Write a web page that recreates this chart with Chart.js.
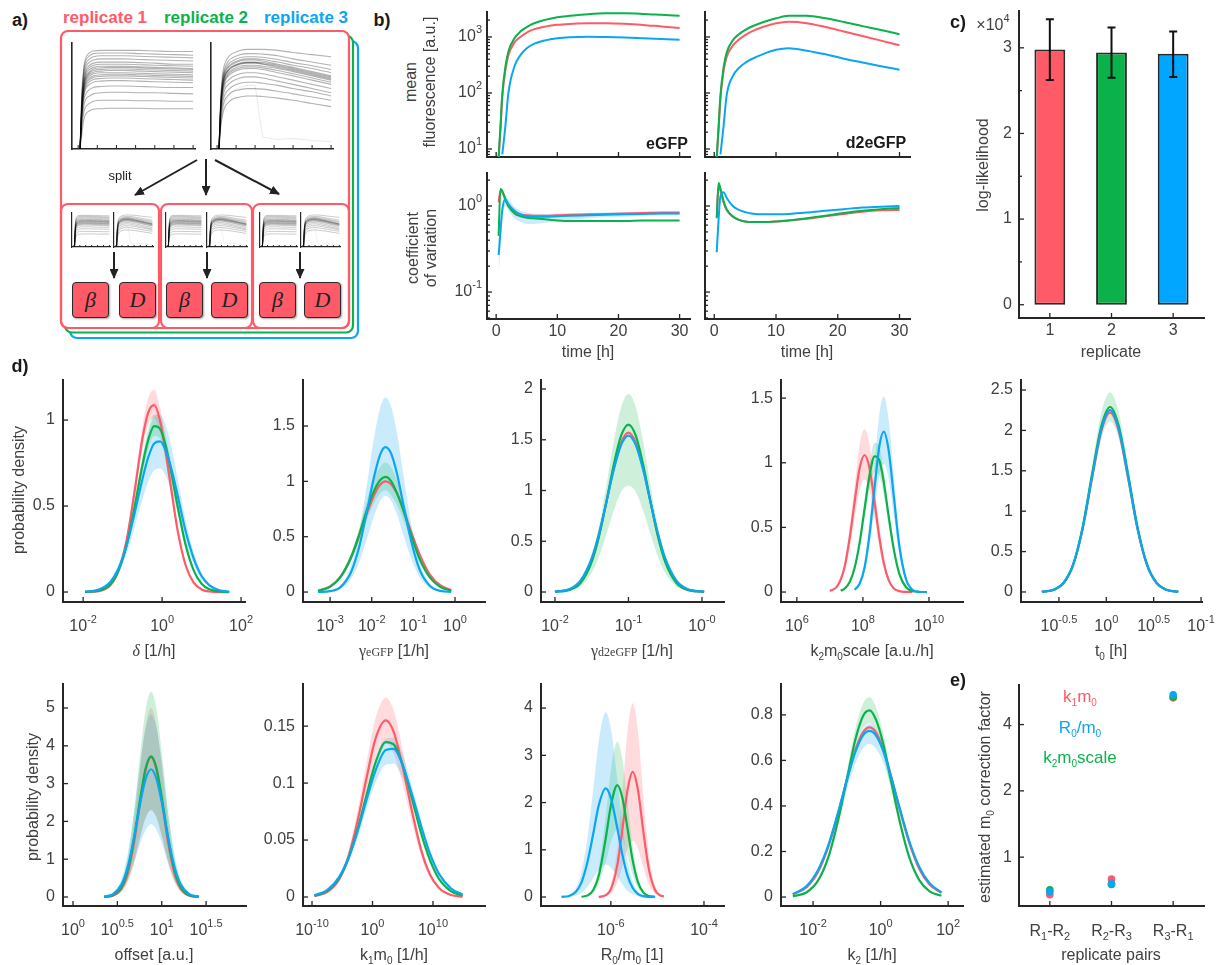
<!DOCTYPE html>
<html><head><meta charset="utf-8">
<script src="https://cdn.jsdelivr.net/npm/chart.js@4.4.0/dist/chart.umd.min.js"></script>
<style>
html,body{margin:0;padding:0;background:#fff;}
body{width:1222px;height:965px;position:relative;overflow:hidden;font-family:'Liberation Sans',Arial,Helvetica,sans-serif;color:#404040;}
canvas{position:absolute;}
.t{position:absolute;white-space:nowrap;font-size:16px;line-height:1;transform:translate(-50%,-50%);}
.r{transform:translate(-50%,-50%) rotate(-90deg);}
.b{font-weight:bold;color:#1a1a1a;font-size:17px;}
.t sub{font-size:10px;vertical-align:-4px;line-height:0;}
.t sup{font-size:11px;vertical-align:8px;line-height:0;}
.serif{font-family:'Liberation Serif','DejaVu Serif',serif;}
.box{position:absolute;background:#ff5a68;border:1.5px solid #2a2a2a;border-radius:4px;box-shadow:1px 1px 2px rgba(0,0,0,.35);display:flex;align-items:center;justify-content:center;font-family:'Liberation Serif','DejaVu Serif',serif;font-style:italic;font-size:22px;color:#222;box-sizing:border-box;width:37px;height:36px;top:282px;}
</style></head><body>
<svg width="1222" height="965" style="position:absolute;left:0;top:0">
<defs><marker id="ah" markerWidth="10" markerHeight="9" refX="9" refY="4.5" orient="auto" markerUnits="userSpaceOnUse"><path d="M0,0 L10,4.5 L0,9 z" fill="#222"/></marker></defs>
<rect x="70" y="41" width="288" height="297" rx="7" fill="#fff" stroke="#0AA6F2" stroke-width="2.2"/>
<rect x="65" y="35.5" width="288" height="297" rx="7" fill="#fff" stroke="#0BB24B" stroke-width="2.2"/>
<rect x="61" y="31" width="288" height="297" rx="7" fill="#fff" stroke="#FF5A68" stroke-width="2.2"/>
<rect x="61" y="204" width="98" height="124" rx="7" fill="none" stroke="#FF5A68" stroke-width="2.2"/>
<rect x="161" y="204" width="91" height="124" rx="7" fill="none" stroke="#FF5A68" stroke-width="2.2"/>
<rect x="253" y="204" width="96" height="124" rx="7" fill="none" stroke="#FF5A68" stroke-width="2.2"/>
<g stroke="#222" stroke-width="2" marker-end="url(#ah)">
<line x1="197" y1="160" x2="135" y2="195"/>
<line x1="206" y1="159" x2="206" y2="195"/>
<line x1="215" y1="160" x2="279" y2="194"/>
<line x1="114" y1="252" x2="114" y2="278"/>
<line x1="207" y1="252" x2="207" y2="278"/>
<line x1="300" y1="252" x2="300" y2="278"/>
</g>
</svg>
<div class="box" style="left:72px">β</div><div class="box" style="left:119px">D</div>
<div class="box" style="left:166px">β</div><div class="box" style="left:211px">D</div>
<div class="box" style="left:259px">β</div><div class="box" style="left:304px">D</div>
<script>
// ---------------- DATA ----------------
// panel a (schematic single-cell traces, normalised)
const traceTime = [0.5,1,1.5,2,3,4,6,8,10,12,16,20,25,30];
const eGFPTraces = [
 [0,.55,.78,.86,.91,.925,.93,.93,.93,.93,.93,.925,.92,.92],
 [0,.52,.75,.83,.88,.9,.905,.905,.905,.905,.9,.895,.89,.885],
 [0,.5,.72,.8,.85,.87,.88,.88,.88,.88,.875,.87,.865,.86],
 [0,.47,.69,.77,.82,.84,.85,.85,.85,.85,.845,.84,.835,.83],
 [0,.45,.66,.74,.79,.81,.82,.82,.82,.82,.815,.81,.8,.8],
 [0,.44,.64,.72,.77,.79,.80,.80,.80,.80,.795,.79,.785,.78],
 [0,.42,.62,.7,.75,.77,.78,.78,.78,.78,.775,.77,.765,.76],
 [0,.41,.61,.68,.73,.755,.765,.77,.77,.77,.765,.76,.755,.75],
 [0,.4,.6,.67,.72,.74,.75,.755,.755,.755,.75,.745,.74,.735],
 [0,.39,.585,.655,.705,.725,.735,.74,.74,.74,.735,.73,.725,.72],
 [0,.38,.57,.64,.69,.71,.72,.72,.72,.72,.715,.71,.705,.7],
 [0,.37,.555,.625,.67,.69,.70,.705,.705,.705,.70,.695,.69,.685],
 [0,.36,.54,.61,.655,.675,.685,.69,.69,.69,.685,.68,.675,.67],
 [0,.345,.52,.59,.635,.655,.665,.67,.67,.67,.665,.66,.655,.65],
 [0,.33,.5,.57,.61,.63,.64,.645,.645,.645,.64,.635,.63,.625],
 [0,.3,.46,.52,.56,.58,.59,.595,.595,.595,.59,.585,.58,.58],
 [0,.26,.41,.47,.5,.52,.53,.535,.535,.535,.53,.53,.525,.52],
 [0,.22,.35,.4,.43,.45,.46,.46,.46,.46,.455,.455,.45,.45],
 [0,.15,.28,.33,.36,.375,.38,.385,.385,.385,.385,.38,.38,.38]
];
const d2eGFPTraces = [
 [0,.5,.72,.8,.87,.9,.93,.94,.94,.94,.93,.91,.89,.87],
 [0,.48,.68,.76,.83,.86,.89,.9,.9,.895,.88,.85,.82,.79],
 [0,.46,.66,.74,.8,.83,.86,.87,.87,.865,.845,.815,.785,.75],
 [0,.45,.64,.72,.78,.81,.84,.85,.85,.845,.82,.79,.76,.72],
 [0,.44,.63,.71,.77,.8,.83,.84,.84,.83,.8,.77,.73,.69],
 [0,.43,.61,.69,.75,.78,.81,.82,.82,.815,.79,.76,.72,.68],
 [0,.42,.605,.685,.745,.775,.805,.815,.815,.805,.78,.75,.71,.67],
 [0,.41,.6,.68,.74,.77,.8,.81,.81,.8,.77,.74,.7,.66],
 [0,.4,.58,.66,.72,.75,.78,.79,.79,.78,.76,.73,.69,.65],
 [0,.39,.565,.645,.705,.735,.765,.775,.775,.765,.74,.71,.67,.63],
 [0,.38,.55,.63,.69,.72,.75,.76,.76,.75,.72,.69,.65,.61],
 [0,.36,.52,.6,.65,.68,.71,.72,.72,.71,.68,.65,.61,.57],
 [0,.33,.48,.56,.61,.64,.67,.68,.68,.67,.64,.61,.57,.53],
 [0,.3,.44,.51,.56,.59,.62,.63,.63,.62,.6,.57,.54,.5],
 [0,.26,.39,.46,.51,.54,.56,.57,.57,.565,.545,.52,.49,.46],
 [0,.22,.33,.39,.44,.47,.49,.5,.5,.495,.48,.46,.43,.4]
];
const d2eGFPOutlier = [0,.2,.35,.42,.5,.54,.58,.6,.6,.11,.09,.1,.08,.07];

// panel b
const bTime = [0.4,0.7,1,1.5,2,3,4,5,6,8,10,12,15,18,21,24,27,30];
const meanEgfpRed   = [7,22,85,250,470,800,1010,1200,1350,1530,1650,1710,1750,1760,1720,1640,1540,1450];
const meanEgfpGreen = [7,25,95,290,550,950,1260,1500,1720,2020,2250,2380,2550,2640,2640,2580,2480,2380];
const meanEgfpBlue  = [null,null,8,25,100,300,480,630,740,870,950,990,1010,1000,980,950,920,890];
const meanD2Red     = [7,22,80,240,440,700,900,1080,1250,1520,1750,1870,1760,1500,1250,1040,860,710];
const meanD2Green   = [7,25,90,280,520,870,1120,1330,1520,1850,2150,2380,2380,2150,1850,1560,1330,1120];
const meanD2Blue    = [null,null,8,25,90,200,280,345,400,500,590,630,570,490,410,350,300,260];
const cvEgfpRed   = [1.1,1.5,1.45,1.2,1.0,0.85,0.8,0.78,0.77,0.77,0.78,0.79,0.8,0.81,0.82,0.83,0.84,0.84];
const cvEgfpGreen = [0.45,1.58,1.5,1.2,1.0,0.82,0.76,0.73,0.72,0.70,0.68,0.67,0.67,0.67,0.67,0.68,0.68,0.68];
const cvEgfpBlue  = [0.27,0.5,0.9,1.2,1.05,0.88,0.8,0.76,0.75,0.75,0.76,0.77,0.78,0.79,0.8,0.81,0.82,0.82];
const cvEgfpBlueHi = [0.4,0.7,1.1,1.35,1.2,0.98,0.88,0.84,0.82,0.81,0.82,0.82,0.83,0.84,0.85,0.86,0.86,0.86];
const cvEgfpBlueLo = [0.16,0.33,0.7,1.0,0.88,0.72,0.65,0.62,0.62,0.64,0.67,0.69,0.72,0.74,0.75,0.77,0.78,0.79];
const cvD2Red   = [0.75,1.7,1.5,1.1,0.9,0.75,0.69,0.66,0.65,0.65,0.66,0.68,0.71,0.76,0.81,0.86,0.89,0.9];
const cvD2Green = [0.72,1.85,1.6,1.15,0.92,0.76,0.69,0.66,0.65,0.65,0.66,0.68,0.72,0.77,0.83,0.88,0.92,0.95];
const cvD2Blue  = [0.29,0.7,1.3,1.45,1.25,1.0,0.9,0.85,0.82,0.8,0.8,0.81,0.84,0.88,0.92,0.96,0.98,1.0];
const bTimeTicks = [0,10,20,30];
const bTimeLabels = ['0','10','20','30'];

// panel c
const llReplicates = ['1','2','3'];
const llMean = [29810,29460,29300];
const llHi = [33350,32380,31910];
const llLo = [26230,26500,26580];

// panel d (x values are log10 of the parameter)
const d1X = [-1.95,-1.6,-1.3,-1.1,-0.9,-0.7,-0.5,-0.35,-0.2,-0.05,0.1,0.25,0.4,0.6,0.8,1.0,1.2,1.45,1.7];
const d1Red   = [0,.005,.042,.128,.30,.58,.89,1.045,1.087,.994,.80,.57,.35,.153,.055,.015,.003,0,0];
const d1Green = [.001,.008,.048,.126,.27,.49,.735,.886,.965,.948,.843,.675,.49,.27,.126,.048,.016,.003,0];
const d1Blue  = [.002,.014,.062,.138,.27,.454,.655,.784,.864,.876,.817,.704,.555,.35,.196,.093,.039,.01,.002];
const d1RedHi = [0,.005,.045,.138,.324,.626,.96,1.13,1.175,1.07,.864,.616,.378,.165,.059,.016,.003,0,0];
const d1RedLo = [0,.005,.039,.119,.279,.54,.828,.972,1.01,.924,.744,.53,.326,.142,.051,.014,.003,0,0];
const d1GreenHi = [.001,.009,.051,.135,.289,.524,.786,.948,1.033,1.014,.902,.722,.524,.289,.135,.051,.017,.003,0];
const d1GreenLo = [.001,.008,.045,.118,.254,.461,.691,.833,.907,.891,.792,.635,.461,.254,.118,.045,.015,.003,0];
const d1BlueHi = [.002,.017,.073,.163,.319,.536,.773,.925,1.02,1.034,.964,.831,.655,.413,.231,.11,.046,.012,.002];
const d1BlueLo = [.002,.011,.051,.113,.221,.372,.537,.643,.708,.718,.67,.577,.455,.287,.161,.076,.032,.008,.002];

const d2X = [-3.29,-3.0,-2.75,-2.5,-2.3,-2.1,-1.95,-1.8,-1.67,-1.54,-1.4,-1.25,-1.05,-0.85,-0.6,-0.35,-0.09];
const d2Red   = [.012,.051,.14,.31,.51,.726,.87,.969,1.0,.976,.895,.755,.54,.34,.155,.059,.017];
const d2Green = [.01,.047,.135,.31,.52,.76,.91,1.01,1.04,1.005,.90,.75,.51,.30,.13,.045,.011];
const d2Blue  = [.001,.008,.045,.177,.41,.755,1.03,1.24,1.31,1.256,1.08,.81,.457,.203,.055,.01,.001];
const d2BlueHi = [.001,.011,.06,.237,.55,1.01,1.38,1.66,1.76,1.68,1.45,1.09,.61,.27,.074,.013,.001];
const d2BlueLo = [0,.005,.03,.117,.27,.5,.68,.82,.87,.83,.71,.53,.30,.134,.036,.007,0];
const d2GreenHi = [.011,.053,.151,.35,.58,.85,1.02,1.13,1.17,1.13,1.01,.84,.57,.34,.146,.05,.012];
const d2GreenLo = [.009,.041,.119,.27,.46,.67,.80,.89,.92,.88,.79,.66,.45,.26,.114,.04,.01];

const d3X = [-2.0,-1.8,-1.65,-1.5,-1.4,-1.3,-1.2,-1.1,-1.0,-0.9,-0.8,-0.7,-0.6,-0.5,-0.35,-0.2,0.03];
const d3Red   = [.003,.026,.107,.316,.565,.886,1.22,1.47,1.57,1.47,1.22,.886,.565,.316,.107,.026,.002];
const d3Green = [.002,.021,.09,.297,.55,.89,1.254,1.54,1.65,1.54,1.254,.89,.55,.297,.09,.021,.002];
const d3Blue  = [.003,.029,.114,.333,.578,.887,1.206,1.448,1.54,1.448,1.206,.887,.578,.333,.114,.029,.003];
const d3GreenHi = [.002,.025,.106,.35,.65,1.05,1.48,1.82,1.95,1.82,1.48,1.05,.65,.35,.106,.025,.002];
const d3GreenLo = [.001,.013,.058,.19,.35,.57,.80,.985,1.05,.985,.80,.57,.35,.19,.058,.013,.001];

const d4X = [7.0,7.2,7.33,7.45,7.6,7.75,7.9,8.05,8.2,8.35,8.5,8.63,8.78,8.93,9.1,9.3,9.5,9.7,9.94];
const d4Red   = [.007,.038,.098,.20,.42,.70,.957,1.06,.957,.70,.42,.226,.092,.03,.007,.001,0,null,null];
const d4Green = [null,null,.01,.027,.077,.188,.38,.643,.90,1.05,1.017,.852,.585,.338,.143,.039,.008,.001,null];
const d4Blue  = [null,null,null,null,null,.017,.064,.19,.446,.80,1.13,1.24,1.094,.753,.362,.103,.018,.002,0];
const d4RedHi = [.008,.045,.117,.238,.50,.83,1.14,1.26,1.14,.83,.50,.27,.11,.036,.008,.001,0,null,null];
const d4RedLo = [.006,.031,.08,.164,.344,.574,.785,.87,.785,.574,.344,.185,.075,.025,.006,.001,0,null,null];
const d4GreenHi = [null,null,.011,.03,.085,.207,.418,.707,.99,1.155,1.12,.937,.644,.372,.157,.043,.009,.001,null];
const d4GreenLo = [null,null,.009,.024,.068,.165,.334,.566,.79,.924,.895,.75,.515,.297,.126,.034,.007,.001,null];
const d4BlueHi = [null,null,null,null,null,.021,.078,.232,.544,.976,1.38,1.51,1.335,.92,.44,.126,.022,.002,0];
const d4BlueLo = [null,null,null,null,null,.014,.051,.152,.357,.64,.904,.99,.875,.60,.29,.082,.014,.002,0];

const d5X = [-0.68,-0.55,-0.45,-0.35,-0.25,-0.15,-0.05,0.04,0.13,0.23,0.33,0.43,0.53,0.63,0.76];
const d5Red   = [.003,.029,.111,.331,.775,1.41,2.0,2.22,2.0,1.41,.775,.331,.111,.029,.003];
const d5Green = [.003,.03,.114,.341,.80,1.455,2.063,2.29,2.063,1.455,.80,.341,.114,.03,.003];
const d5Blue  = [.003,.029,.112,.335,.785,1.43,2.027,2.25,2.027,1.43,.785,.335,.112,.029,.003];
const d5GreenHi = [.003,.032,.123,.368,.864,1.57,2.23,2.47,2.23,1.57,.864,.368,.123,.032,.003];
const d5GreenLo = [.003,.027,.105,.314,.736,1.34,1.9,2.11,1.9,1.34,.736,.314,.105,.027,.003];

const d6X = [0.35,0.45,0.55,0.62,0.69,0.76,0.82,0.88,0.94,1.0,1.07,1.14,1.21,1.31,1.42];
const d6Red   = [.003,.033,.23,.655,1.465,2.56,3.37,3.7,3.37,2.56,1.465,.655,.23,.033,.003];
const d6Green = [.005,.046,.276,.745,1.58,2.64,3.42,3.72,3.42,2.64,1.58,.745,.276,.046,.005];
const d6Blue  = [.01,.073,.35,.825,1.59,2.51,3.13,3.38,3.13,2.51,1.59,.825,.35,.073,.01];
const d6GreenHi = [.007,.067,.40,1.09,2.31,3.85,4.99,5.43,4.99,3.85,2.31,1.09,.40,.067,.007];
const d6GreenLo = [.003,.029,.171,.462,.98,1.64,2.12,2.31,2.12,1.64,.98,.462,.171,.029,.003];
const d6BlueHi = [.014,.104,.50,1.18,2.27,3.59,4.48,4.83,4.48,3.59,2.27,1.18,.50,.104,.014];
const d6BlueLo = [.006,.042,.20,.47,.91,1.43,1.78,1.93,1.78,1.43,.91,.47,.20,.042,.006];
const d6RedHi = [.004,.045,.31,.884,1.98,3.46,4.55,5.0,4.55,3.46,1.98,.884,.31,.045,.004];
const d6RedLo = [.002,.02,.143,.406,.908,1.59,2.09,2.29,2.09,1.59,.908,.406,.143,.02,.002];

const d7X = [-9.6,-7.5,-5.5,-4,-2.5,-1,0.5,2.2,3.5,5,6.5,8,9.5,11,13,14.9];
const d7Red   = [.0007,.0042,.0156,.035,.066,.104,.139,.155,.145,.114,.076,.042,.0197,.0079,.0017,.0003];
const d7Green = [.0012,.0053,.0167,.0334,.0589,.089,.118,.136,.134,.116,.087,.0566,.0323,.0158,.0049,.0013];
const d7Blue  = [.0015,.006,.0177,.034,.057,.085,.111,.129,.13,.1155,.0906,.063,.038,.0203,.0074,.0022];
const d7RedHi = [.0008,.0047,.0176,.04,.075,.118,.157,.175,.164,.129,.086,.047,.022,.009,.002,.0003];
const d7RedLo = [.0006,.0037,.0136,.03,.057,.09,.121,.135,.126,.099,.066,.037,.017,.007,.0015,.0003];
const d7BlueHi = [.0016,.0065,.019,.037,.062,.092,.12,.139,.14,.125,.098,.068,.041,.022,.008,.0024];
const d7BlueLo = [.0013,.0054,.016,.031,.051,.077,.1,.116,.117,.104,.082,.057,.034,.018,.0067,.002];

const d8X = [-7.06,-6.9,-6.75,-6.63,-6.5,-6.38,-6.26,-6.11,-6.0,-5.86,-5.75,-5.64,-5.53,-5.42,-5.3,-5.18,-5.05,-4.95,-4.86];
const d8Red   = [null,null,null,null,null,null,.003,.039,.167,.68,1.45,2.28,2.65,2.28,1.37,.57,.149,.04,.01];
const d8Green = [null,null,null,.005,.034,.145,.45,1.24,1.93,2.37,2.09,1.44,.77,.32,.092,.02,.003,null,null];
const d8Blue  = [.003,.023,.11,.31,.75,1.33,1.94,2.3,2.1,1.45,.886,.447,.19,.069,.018,.004,.001,null,null];
const d8BlueHi = [.005,.04,.19,.53,1.28,2.26,3.3,3.91,3.57,2.47,1.5,.76,.32,.12,.03,.007,.002,null,null];
const d8BlueLo = [.001,.007,.033,.093,.225,.4,.58,.69,.63,.435,.266,.134,.057,.021,.005,.001,0,null,null];
const d8GreenHi = [null,null,null,.007,.047,.2,.63,1.72,2.68,3.29,2.9,2.0,1.07,.445,.128,.028,.004,null,null];
const d8GreenLo = [null,null,null,.003,.02,.087,.27,.74,1.16,1.42,1.25,.86,.46,.19,.055,.012,.002,null,null];
const d8RedHi = [null,null,null,null,null,null,.005,.06,.26,1.05,2.25,3.53,4.1,3.53,2.12,.88,.23,.062,.016];
const d8RedLo = [null,null,null,null,null,null,.001,.018,.075,.31,.65,1.03,1.19,1.03,.62,.26,.067,.018,.005];

const d9X = [-2.6,-2.2,-1.85,-1.55,-1.25,-1.0,-0.75,-0.52,-0.33,-0.14,0.08,0.3,0.55,0.85,1.15,1.45,1.8];
const d9Red   = [.011,.042,.111,.22,.371,.515,.644,.723,.745,.723,.647,.536,.393,.238,.122,.055,.018];
const d9Green = [.0034,.02,.073,.174,.343,.517,.69,.795,.82,.78,.672,.517,.343,.174,.073,.025,.0056];
const d9Blue  = [.013,.047,.12,.227,.377,.513,.636,.71,.73,.71,.641,.534,.399,.245,.131,.061,.021];
const d9GreenHi = [.0036,.021,.078,.186,.367,.553,.738,.85,.877,.835,.72,.553,.367,.186,.078,.027,.006];
const d9GreenLo = [.003,.019,.068,.162,.319,.48,.642,.74,.763,.725,.625,.48,.319,.162,.068,.023,.005];
const d9BlueHi = [.014,.049,.125,.236,.392,.533,.661,.738,.76,.738,.667,.555,.415,.255,.136,.063,.022];
const d9BlueLo = [.012,.043,.11,.209,.347,.472,.585,.653,.672,.653,.59,.491,.367,.225,.12,.056,.019];

// panel e
const ePairs = ['R_{1}-R_{2}','R_{2}-R_{3}','R_{3}-R_{1}'];
const eK1m0 = [0.675,0.796,5.29];
const eK2m0scale = [0.711,0.752,5.34];
const eR0m0 = [0.696,0.756,5.46];

// ---------------- STYLE / HELPERS ----------------
const AX = '#262626', TXT = '#404040';
const RED = '#FF5A68', GREEN = '#0BB24B', BLUE = '#0AA6F2';
const RED_B = 'rgba(255,90,104,0.22)', GREEN_B = 'rgba(11,178,75,0.2)', BLUE_B = 'rgba(10,166,242,0.22)';
const FONTF = "'Liberation Sans', Arial, sans-serif";

function rich(ctx, s, x, y, align, fs){
  fs = fs || 16;
  const segs = []; let cur = '', i = 0;
  while (i < s.length){
    const c = s[i];
    if ((c === '^' || c === '_') && s[i+1] === '{'){
      if (cur){ segs.push({t:cur,k:0}); cur=''; }
      const j = s.indexOf('}', i);
      segs.push({t:s.slice(i+2,j), k: c==='^'?1:-1});
      i = j+1;
    } else { cur += c; i++; }
  }
  if (cur) segs.push({t:cur,k:0});
  const big = fs + 'px ' + FONTF, small = Math.round(fs*0.7) + 'px ' + FONTF;
  let w = 0;
  segs.forEach(g => { ctx.font = g.k ? small : big; g.w = ctx.measureText(g.t).width; w += g.w; });
  let cx = align==='center' ? x - w/2 : (align==='right' ? x - w : x);
  ctx.textAlign = 'left'; ctx.textBaseline = 'middle';
  segs.forEach(g => { ctx.font = g.k ? small : big; ctx.fillText(g.t, cx, y + (g.k===1 ? -fs*0.45 : g.k===-1 ? fs*0.32 : 0)); cx += g.w; });
}

const deco = {
  id:'deco',
  afterDraw(chart){
    const d = chart.canvas._deco; if (!d) return;
    const ctx = chart.ctx, ca = chart.chartArea;
    ctx.save();
    ctx.strokeStyle = AX; ctx.fillStyle = TXT; ctx.lineWidth = d.tw || 1.3;
    ['x','y'].forEach(ax => {
      const o = d[ax]; if (!o) return;
      const sc = chart.scales[ax];
      const mark = (v, len) => {
        const p = sc.getPixelForValue(v);
        ctx.beginPath();
        if (ax === 'x'){ ctx.moveTo(p, ca.bottom); ctx.lineTo(p, ca.bottom - len); }
        else { ctx.moveTo(ca.left, p); ctx.lineTo(ca.left + len, p); }
        ctx.stroke();
        return p;
      };
      (o.minor || []).forEach(v => mark(v, o.mlen || 3));
      (o.ticks || []).forEach((v, i) => {
        const p = mark(v, o.len || 5);
        const lab = o.labels ? o.labels[i] : null;
        if (lab){
          if (ax === 'x') rich(ctx, lab, p, ca.bottom + (o.dy || 14), 'center', o.fs);
          else rich(ctx, lab, ca.left - (o.dx || 8), p, 'right', o.fs);
        }
      });
    });
    ctx.restore();
  }
};

const errBars = {
  id:'errBars',
  afterDatasetsDraw(chart){
    const e = chart.canvas._err; if (!e) return;
    const ctx = chart.ctx, xs = chart.scales.x, ys = chart.scales.y;
    ctx.save(); ctx.strokeStyle = '#111'; ctx.lineWidth = 2;
    e.lo.forEach((lo, i) => {
      const x = xs.getPixelForValue(i), y1 = ys.getPixelForValue(e.hi[i]), y2 = ys.getPixelForValue(lo);
      ctx.beginPath();
      ctx.moveTo(x, y1); ctx.lineTo(x, y2);
      ctx.moveTo(x-4, y1); ctx.lineTo(x+4, y1);
      ctx.moveTo(x-4, y2); ctx.lineTo(x+4, y2);
      ctx.stroke();
    });
    ctx.restore();
  }
};

function makeChart(box, cfg, deco_, pad, bw, extra){
  pad = pad || {l:62,t:12,r:34,b:44};
  const c = document.createElement('canvas');
  const W = box.R - box.L + pad.l + pad.r, H = box.B - box.T + pad.t + pad.b;
  c.width = W; c.height = H;
  c.style.left = (box.L - pad.l) + 'px'; c.style.top = (box.T - pad.t) + 'px';
  c.style.width = W + 'px'; c.style.height = H + 'px';
  c._deco = deco_;
  if (extra) Object.assign(c, extra);
  document.body.appendChild(c);
  const o = cfg.options || {};
  o.responsive = false; o.animation = false; o.devicePixelRatio = 1; o.events = [];
  o.layout = {autoPadding:false, padding:{left:0, top:pad.t, right:pad.r, bottom:0}};
  o.plugins = Object.assign({legend:{display:false}, tooltip:{enabled:false}}, o.plugins || {});
  ['x','y'].forEach(k => {
    const s = o.scales[k];
    s.afterFit = k === 'x' ? (sc => { sc.height = pad.b; }) : (sc => { sc.width = pad.l; });
    s.ticks = {display:false};
    s.grid = {display:false};
    s.border = {display:true, color:AX, width: bw || 2};
  });
  cfg.options = o;
  cfg.plugins = [deco, errBars];
  return new Chart(c, cfg);
}

function pts(X, Y){ return X.map((x, i) => ({x:x, y:Y[i]})); }
function lineDs(X, Y, col, order, w){
  return {data:pts(X,Y), borderColor:col, borderWidth:w||2.2, pointRadius:0, fill:false, cubicInterpolationMode:'monotone', order:order};
}
function bandDs(X, Hi, Lo, col, order){
  return [
    {data:pts(X,Hi), borderWidth:0, borderColor:'rgba(0,0,0,0)', backgroundColor:col, pointRadius:0, fill:'+1', cubicInterpolationMode:'monotone', order:order},
    {data:pts(X,Lo), borderWidth:0, borderColor:'rgba(0,0,0,0)', pointRadius:0, fill:false, cubicInterpolationMode:'monotone', order:order}
  ];
}

// ---------------- PANEL a minis ----------------
function mini(box, traces, outlier, lw){
  const ds = traces.map(t => ({data:pts(traceTime, t), borderColor:'rgba(0,0,0,0.3)', borderWidth:lw, pointRadius:0, fill:false, cubicInterpolationMode:'monotone'}));
  if (outlier) ds.push({data:pts(traceTime, outlier), borderColor:'rgba(0,0,0,0.08)', borderWidth:lw, pointRadius:0, fill:false, tension:0});
  makeChart(box, {type:'line', data:{datasets:ds}, options:{scales:{x:{type:'linear',min:-1.6,max:30.5}, y:{type:'linear',min:0,max:1}}}},
    {tw:1, x:{ticks:[0,5,10,15,20,25,30], len: lw>0.9?4:2}}, {l:3,t:3,r:4,b:3}, lw>0.9?1.6:1.2);
}
mini({L:72,T:43,R:195,B:149}, eGFPTraces, null, 1.1);
mini({L:211,T:43,R:333,B:149}, d2eGFPTraces, d2eGFPOutlier, 1.1);
[[72,110,114,153],[166,202,207,247],[260,297,301,340]].forEach(p => {
  mini({L:p[0],T:213,R:p[1],B:247}, eGFPTraces, null, 0.7);
  mini({L:p[2],T:213,R:p[3],B:247}, d2eGFPTraces, d2eGFPOutlier, 0.7);
});

// ---------------- PANEL b ----------------
const meanMinor = [8,9,20,30,40,50,60,70,80,90,200,300,400,500,600,700,800,900,2000];
const cvMinor = [0.05,0.06,0.07,0.08,0.09,0.2,0.3,0.4,0.5,0.6,0.7,0.8,0.9,2];
function bChart(box, lines, bands, yr, minor, yTicks, yLabels, xLabels){
  const ds = [];
  lines.forEach((l, i) => ds.push(lineDs(bTime, l[0], l[1], 3 - i, 2)));
  (bands || []).forEach(b => bandDs(bTime, b[0], b[1], b[2], 10).forEach(d => ds.push(d)));
  makeChart(box, {type:'line', data:{datasets:ds}, options:{scales:{x:{type:'linear',min:-1.5,max:31.7}, y:{type:'logarithmic',min:yr[0],max:yr[1]}}}},
    {x:{ticks:bTimeTicks, labels:xLabels, dy:13}, y:{ticks:yTicks, labels:yLabels, minor:minor, dx:5, len:5, mlen:3}});
}
bChart({L:487,T:12,R:690,B:157}, [[meanEgfpRed,RED],[meanEgfpGreen,GREEN],[meanEgfpBlue,BLUE]], null, [7.2,2790], meanMinor, [10,100,1000], ['10^{1}','10^{2}','10^{3}'], null);
bChart({L:705,T:12,R:910,B:157}, [[meanD2Red,RED],[meanD2Green,GREEN],[meanD2Blue,BLUE]], null, [7.2,2790], meanMinor, [10,100,1000], null, null);
bChart({L:487,T:173,R:690,B:319}, [[cvEgfpRed,RED],[cvEgfpGreen,GREEN],[cvEgfpBlue,BLUE]], [[cvEgfpBlueHi,cvEgfpBlueLo,BLUE_B]], [0.0486,2.42], cvMinor, [0.1,1], ['10^{-1}','10^{0}'], bTimeLabels);
bChart({L:705,T:173,R:910,B:319}, [[cvD2Red,RED],[cvD2Green,GREEN],[cvD2Blue,BLUE]], null, [0.0486,2.42], cvMinor, [0.1,1], null, bTimeLabels);

// ---------------- PANEL c ----------------
makeChart({L:1019,T:11,R:1204,B:318}, {type:'bar', data:{labels:llReplicates, datasets:[{data:llMean, backgroundColor:[RED,GREEN,'#00A6FF'], borderColor:'#2a2a2a', borderWidth:2, borderSkipped:false, barPercentage:0.5, categoryPercentage:1.0}]},
  options:{scales:{x:{type:'category'}, y:{type:'linear',min:-1550,max:34300}}}},
  {x:{ticks:[0,1,2], labels:llReplicates, dy:13}, y:{ticks:[0,10000,20000,30000], labels:['0','1','2','3'], minor:[5000,15000,25000], dx:7}},
  null, 2, {_err:{lo:llLo, hi:llHi}});

// ---------------- PANEL d ----------------
function dens(box, X, lines, bands, xr, yr, xt, xl, yt, yl){
  const ds = [];
  lines.forEach((l, i) => ds.push(lineDs(X, l[0], l[1], 3 - i)));
  (bands || []).forEach((b, i) => bandDs(X, b[0], b[1], b[2], 10 + i).forEach(d => ds.push(d)));
  makeChart(box, {type:'line', data:{datasets:ds}, options:{scales:{x:{type:'linear',min:xr[0],max:xr[1]}, y:{type:'linear',min:yr[0],max:yr[1]}}}},
    {x:{ticks:xt, labels:xl, dy:25}, y:{ticks:yt, labels:yl, dx:8}});
}
dens({L:63,T:380,R:245,B:602}, d1X, [[d1Red,RED],[d1Green,GREEN],[d1Blue,BLUE]],
  [[d1RedHi,d1RedLo,RED_B],[d1GreenHi,d1GreenLo,GREEN_B],[d1BlueHi,d1BlueLo,BLUE_B]],
  [-2.51,2.1], [-0.058,1.233], [-2,0,2], ['10^{-2}','10^{0}','10^{2}'], [0,0.5,1], ['0','0.5','1']);
dens({L:303,T:380,R:485,B:602}, d2X, [[d2Red,RED],[d2Green,GREEN],[d2Blue,BLUE]],
  [[d2GreenHi,d2GreenLo,GREEN_B],[d2BlueHi,d2BlueLo,BLUE_B]],
  [-3.65,0.72], [-0.09,1.916], [-3,-2,-1,0], ['10^{-3}','10^{-2}','10^{-1}','10^{0}'], [0,0.5,1,1.5], ['0','0.5','1','1.5']);
dens({L:541,T:380,R:724,B:602}, d3X, [[d3Red,RED],[d3Green,GREEN],[d3Blue,BLUE]],
  [[d3GreenHi,d3GreenLo,GREEN_B]],
  [-2.19,0.3], [-0.0985,2.089], [-2,-1,0], ['10^{-2}','10^{-1}','10^{-0}'], [0,0.5,1,1.5,2], ['0','0.5','1','1.5','2']);
dens({L:781,T:380,R:963,B:602}, d4X, [[d4Red,RED],[d4Green,GREEN],[d4Blue,BLUE]],
  [[d4RedHi,d4RedLo,RED_B],[d4GreenHi,d4GreenLo,GREEN_B],[d4BlueHi,d4BlueLo,BLUE_B]],
  [5.52,11.03], [-0.077,1.64], [6,8,10], ['10^{6}','10^{8}','10^{10}'], [0,0.5,1,1.5], ['0','0.5','1','1.5']);
dens({L:1021,T:380,R:1202,B:602}, d5X, [[d5Red,RED],[d5Green,GREEN],[d5Blue,BLUE]],
  [[d5GreenHi,d5GreenLo,GREEN_B]],
  [-0.9,1.01], [-0.124,2.624], [-0.5,0,0.5,1], ['10^{-0.5}','10^{0}','10^{0.5}','10^{-1}'], [0,0.5,1,1.5,2,2.5], ['0','0.5','1','1.5','2','2.5']);
dens({L:63,T:684,R:246,B:906}, d6X, [[d6Red,RED],[d6Green,GREEN],[d6Blue,BLUE]],
  [[d6GreenHi,d6GreenLo,GREEN_B],[d6RedHi,d6RedLo,RED_B],[d6BlueHi,d6BlueLo,BLUE_B]],
  [-0.113,1.95], [-0.238,5.635], [0,0.5,1,1.5], ['10^{0}','10^{0.5}','10^{1}','10^{1.5}'], [0,1,2,3,4,5], ['0','1','2','3','4','5']);
dens({L:303,T:684,R:485,B:906}, d7X, [[d7Red,RED],[d7Green,GREEN],[d7Blue,BLUE]],
  [[d7RedHi,d7RedLo,RED_B],[d7BlueHi,d7BlueLo,BLUE_B]],
  [-11.49,18.6], [-0.0079,0.187], [-10,0,10], ['10^{-10}','10^{0}','10^{10}'], [0,0.05,0.1,0.15], ['0','0.05','0.1','0.15']);
dens({L:541,T:684,R:724,B:906}, d8X, [[d8Red,RED],[d8Green,GREEN],[d8Blue,BLUE]],
  [[d8BlueHi,d8BlueLo,BLUE_B],[d8GreenHi,d8GreenLo,GREEN_B],[d8RedHi,d8RedLo,RED_B]],
  [-7.5,-3.57], [-0.19,4.51], [-6,-4], ['10^{-6}','10^{-4}'], [0,1,2,3,4], ['0','1','2','3','4']);
dens({L:781,T:684,R:963,B:906}, d9X, [[d9Red,RED],[d9Green,GREEN],[d9Blue,BLUE]],
  [[d9GreenHi,d9GreenLo,GREEN_B],[d9BlueHi,d9BlueLo,BLUE_B]],
  [-2.95,2.44], [-0.0393,0.9355], [-2,0,2], ['10^{-2}','10^{0}','10^{2}'], [0,0.2,0.4,0.6,0.8], ['0','0.2','0.4','0.6','0.8']);

// ---------------- PANEL e ----------------
function pDs(Y, col, order){ return {data:Y, borderColor:col, backgroundColor:col, pointRadius:3.8, pointBorderWidth:0, showLine:false, order:order}; }
makeChart({L:1019,T:685,R:1204,B:906}, {type:'line', data:{labels:ePairs, datasets:[pDs(eK1m0,RED,3), pDs(eK2m0scale,GREEN,2), pDs(eR0m0,BLUE,1)]},
  options:{scales:{x:{type:'category', offset:true}, y:{type:'logarithmic', min:0.608, max:6.05}}}},
  {x:{ticks:[0,1,2], labels:ePairs, dy:26}, y:{ticks:[1,2,4], labels:['1','2','4'], dx:7}});
</script>

<!-- text labels -->
<div class="t b" style="left:20px;top:20px;font-size:18px">a)</div>
<div class="t b" style="left:105px;top:17px;color:#FF5A68">replicate 1</div>
<div class="t b" style="left:206px;top:17px;color:#0BB24B">replicate 2</div>
<div class="t b" style="left:306px;top:17px;color:#0AA6F2">replicate 3</div>
<div class="t" style="left:120px;top:175px;font-size:13px;color:#222">split</div>

<div class="t b" style="left:382px;top:20px;font-size:18px">b)</div>
<div class="t r" style="left:411px;top:82px">mean</div>
<div class="t r" style="left:430px;top:82px">fluorescence [a.u.]</div>
<div class="t r" style="left:413px;top:248px">coefficient</div>
<div class="t r" style="left:431px;top:248px">of variation</div>
<div class="t b" style="left:667px;top:144px;font-size:16px">eGFP</div>
<div class="t b" style="left:876px;top:143px;font-size:16px">d2eGFP</div>
<div class="t" style="left:588px;top:352px">time [h]</div>
<div class="t" style="left:807px;top:352px">time [h]</div>

<div class="t b" style="left:958px;top:22px;font-size:18px">c)</div>
<div class="t" style="left:993px;top:25px">×10<sup>4</sup></div>
<div class="t r" style="left:983px;top:165px">log-likelihood</div>
<div class="t" style="left:1111px;top:352px">replicate</div>

<div class="t b" style="left:20px;top:366px;font-size:18px">d)</div>
<div class="t r" style="left:19px;top:490px">probability density</div>
<div class="t r" style="left:33px;top:797px">probability density</div>
<div class="t" style="left:154px;top:651px"><span class="serif" style="font-style:italic">δ</span> [1/h]</div>
<div class="t" style="left:394px;top:651px"><span class="serif">γ<span style="font-size:12px">eGFP</span></span> [1/h]</div>
<div class="t" style="left:632px;top:651px"><span class="serif">γ<span style="font-size:12px">d2eGFP</span></span> [1/h]</div>
<div class="t" style="left:872px;top:651px">k<sub>2</sub>m<sub>0</sub>scale [a.u./h]</div>
<div class="t" style="left:1111px;top:651px">t<sub>0</sub> [h]</div>
<div class="t" style="left:154px;top:955px">offset [a.u.]</div>
<div class="t" style="left:394px;top:955px">k<sub>1</sub>m<sub>0</sub> [1/h]</div>
<div class="t" style="left:632px;top:955px">R<sub>0</sub>/m<sub>0</sub> [1]</div>
<div class="t" style="left:872px;top:955px">k<sub>2</sub> [1/h]</div>

<div class="t b" style="left:958px;top:680px;font-size:18px">e)</div>
<div class="t r" style="left:985px;top:797px">estimated m<sub>0</sub> correction factor</div>
<div class="t" style="left:1080px;top:696px;color:#FF5A68;font-size:17px">k<sub>1</sub>m<sub>0</sub></div>
<div class="t" style="left:1080px;top:727px;color:#0AA6F2;font-size:17px">R<sub>0</sub>/m<sub>0</sub></div>
<div class="t" style="left:1080px;top:757px;color:#0BB24B;font-size:17px">k<sub>2</sub>m<sub>0</sub>scale</div>
<div class="t" style="left:1111px;top:955px">replicate pairs</div>
</body></html>
